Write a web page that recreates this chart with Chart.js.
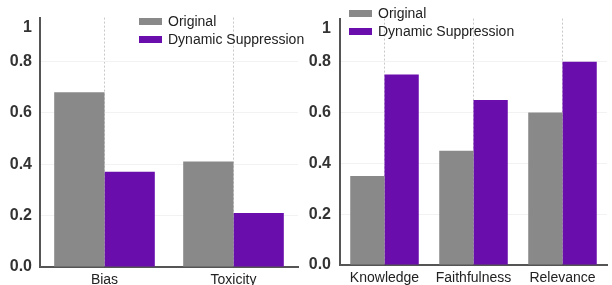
<!DOCTYPE html>
<html>
<head>
<meta charset="utf-8">
<script src="https://cdn.jsdelivr.net/npm/chart.js@4"></script>
<style>
    html, body { margin: 0; padding: 0; background: #fff; }
    #wrap { position: relative; width: 612px; height: 285px; overflow: hidden; }
    .panel { position: absolute; top: 0; height: 285px; }
</style>
</head>
<body>
<div id="wrap">
    <div class="panel" style="left:0; width:306px;"><canvas id="leftChart"></canvas></div>
    <div class="panel" style="left:306px; width:306px;"><canvas id="rightChart"></canvas></div>
</div>
<script>
// data
var seriesNames = ['Original', 'Dynamic Suppression'];
var leftCategories = ['Bias', 'Toxicity'];
var leftOriginal = [0.68, 0.41];
var leftDynamic = [0.37, 0.21];
var rightCategories = ['Knowledge', 'Faithfulness', 'Relevance'];
var rightOriginal = [0.35, 0.45, 0.60];
var rightDynamic = [0.75, 0.65, 0.80];
// the "1" label sits a bit below where 1.0 would be in the source picture
var tickValues = [0, 0.2, 0.4, 0.6, 0.8, 0.93];
var tickLabels = ['0.0', '0.2', '0.4', '0.6', '0.8', '1'];

var colors = ['#898989', '#6a0dad'];
var fontFamily = '"Liberation Sans", Arial, sans-serif';

// simple stacked legend drawn in the top of the plot
var stackedLegend = {
    id: 'stackedLegend',
    afterDraw(chart, args, opts) {
        var ctx = chart.ctx;
        ctx.save();
        ctx.font = '14px ' + fontFamily;
        ctx.textBaseline = 'middle';
        chart.data.datasets.forEach((ds, i) => {
            var y = opts.y + i * 18;
            ctx.fillStyle = ds.backgroundColor;
            ctx.fillRect(opts.x, y - 3, 23, 7);
            ctx.fillStyle = '#222';
            ctx.fillText(ds.label, opts.x + 29, y + 1);
        });
        ctx.restore();
    }
};

function makeChart(id, categories, original, dynamic, cfg) {
    var ctx = document.getElementById(id).getContext('2d');
    return new Chart(ctx, {
        type: 'bar',
        data: {
            labels: categories,
            datasets: [
                { label: seriesNames[0], data: original, backgroundColor: colors[0] },
                { label: seriesNames[1], data: dynamic, backgroundColor: colors[1] }
            ]
        },
        options: {
            responsive: true,
            maintainAspectRatio: false,
            animation: false,
            layout: { padding: cfg.padding },
            datasets: {
                bar: { categoryPercentage: cfg.groupWidth, barPercentage: 1.0, borderWidth: 0 }
            },
            scales: {
                x: {
                    grid: { offset: false, drawTicks: false, color: '#c8c8c8', lineWidth: 1 },
                    border: { color: '#555', width: 2, dash: [2, 2] },
                    ticks: { color: '#222', padding: 5, font: { family: fontFamily, size: 14 } },
                    afterFit: (scale) => { scale.height = 285 - cfg.bottom; }
                },
                y: {
                    min: 0,
                    max: 0.97,
                    afterBuildTicks: (scale) => { scale.ticks = tickValues.map(v => ({ value: v })); },
                    grid: {
                        drawTicks: false,
                        color: (c) => (c.index === 0 || c.index === 5) ? 'rgba(0,0,0,0)' : '#f2f2f2'
                    },
                    border: { color: '#555', width: 2 },
                    ticks: {
                        color: '#333',
                        padding: cfg.labelPad,
                        font: { family: fontFamily, size: 16, weight: 'bold' },
                        callback: (v, i) => tickLabels[i]
                    },
                    afterFit: (scale) => { scale.width = cfg.axisWidth; }
                }
            },
            plugins: {
                legend: { display: false },
                tooltip: { enabled: false },
                stackedLegend: cfg.legend
            }
        },
        plugins: [stackedLegend]
    });
}

makeChart('leftChart', leftCategories, leftOriginal, leftDynamic, {
    padding: { top: 15, right: 8, left: 0, bottom: 0 },
    bottom: 267,
    axisWidth: 40,
    labelPad: 8,
    groupWidth: 0.78,
    legend: { x: 139, y: 21 }
});

makeChart('rightChart', rightCategories, rightOriginal, rightDynamic, {
    padding: { top: 5, right: 5, left: 0, bottom: 0 },
    bottom: 265,
    axisWidth: 34,
    labelPad: 9,
    groupWidth: 0.77,
    legend: { x: 43, y: 13 }
});
</script>
</body>
</html>
